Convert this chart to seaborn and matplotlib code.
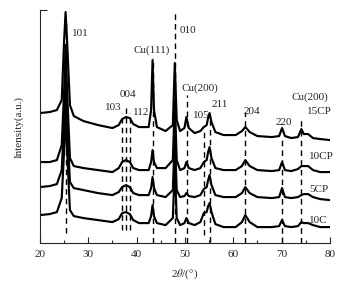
import matplotlib as mpl
mpl.use('agg')
import matplotlib.pyplot as plt
import pandas as pd
import seaborn as sns

# data: 2theta grid (deg) and intensities (a.u., offset patterns)
two_theta = [20, 22, 23.5, 24.5, 25.0, 25.3, 25.6, 26.2, 27, 29, 32, 35, 36.3, 37.0, 37.8,
             38.6, 39.3, 40.5, 42.5, 43.0, 43.3, 43.6, 44.2, 46, 47.5, 47.9, 48.3, 49, 49.9,
             50.3, 50.8, 52, 53.2, 53.9, 54.5, 54.8, 55.1, 55.5, 56.3, 58, 60.5, 61.8, 62.5,
             63.4, 65, 68, 69.5, 70.1, 70.7, 72, 73.4, 74.1, 74.6, 75.5, 76.5, 78, 80]

int_15cp = [130, 131, 133, 143, 203, 231, 203, 138, 127, 122, 118, 115, 118, 124, 126,
            125, 119, 116, 116, 133, 183, 133, 116, 112, 118, 180, 123, 112, 115,
            126, 115, 110, 112, 116, 118, 125, 130, 121, 111, 108, 108, 112, 116,
            111, 107, 106, 107, 115, 107, 105, 106, 114, 109, 109, 105, 104, 103]

int_10cp = [81, 81, 83, 98, 153, 198, 153, 85, 77, 75, 73, 71, 75, 81, 83,
            81, 75, 73, 73, 81, 93, 81, 75, 75, 83, 143, 83, 73, 75,
            81, 75, 73, 75, 81, 83, 91, 96, 85, 75, 73, 73, 77, 83,
            77, 73, 72, 73, 81, 73, 72, 74, 77, 77, 77, 73, 71, 71]

int_5cp = [56, 57, 59, 73, 123, 163, 123, 61, 55, 53, 50, 48, 51, 56, 58,
           56, 50, 48, 48, 55, 66, 55, 48, 46, 53, 108, 53, 46, 47,
           50, 47, 46, 48, 54, 56, 63, 68, 58, 48, 46, 46, 50, 56,
           50, 46, 45, 46, 55, 46, 45, 46, 48, 49, 49, 46, 44, 43]

int_10c = [28, 29, 31, 45, 93, 133, 93, 33, 27, 25, 23, 21, 24, 30, 31,
           29, 23, 20, 20, 27, 38, 27, 20, 18, 25, 78, 25, 18, 20,
           25, 20, 18, 21, 30, 31, 37, 40, 31, 19, 16, 16, 21, 28,
           21, 16, 16, 17, 23, 17, 16, 17, 21, 20, 20, 18, 16, 16]

samples = ['15CP', '10CP', '5CP', '10C']
sample_label_x = [77.9, 78.3, 77.7, 77.7]
sample_label_y = [132, 87, 54, 23]

# reflections: position, label, dashed-line extent, label position
peak_pos = [25.3, 36.9, 37.8, 38.6, 43.3, 47.9, 50.4, 53.9, 55.1, 62.5, 70.1, 74.1]
peak_names = ['101', '103', '004', '112', 'Cu(111)', '010', 'Cu(200)', '105', '211', '204', '220', 'Cu(200)']
line_top = [223, 130, 135, 130, 185, 230, 148, 113, 125, 131, 105, 123]
line_bottom = [10, 13, 13, 13, 0, 0, 0, 8, 1, 0, 0, 0]
label_x = [28.4, 35.1, 38.2, 40.9, 43.2, 50.6, 53.1, 53.3, 57.2, 63.9, 70.5, 75.9]
label_y = [210, 136, 149, 131, 193, 213, 155, 128, 139, 132, 121, 146]

rows = []
for name, vals in zip(samples, [int_15cp, int_10cp, int_5cp, int_10c]):
    for t, v in zip(two_theta, vals):
        rows.append({'2theta': t, 'I': v, 'sample': name})
df = pd.DataFrame(rows)

sns.set_style('ticks')
plt.rcParams['font.family'] = ['Liberation Serif', 'DejaVu Serif']
plt.rcParams['mathtext.fontset'] = 'stix'
plt.rcParams['font.size'] = 8

fig = plt.figure(figsize=(3.57, 2.86), dpi=100)
ax = fig.add_axes([0.112, 0.150, 0.812, 0.815])

# dashed reference lines
ax.vlines(peak_pos, line_bottom, line_top, colors='black', linestyles=(0, (4, 3)),
          linewidth=1.0, zorder=1)

sns.lineplot(data=df, x='2theta', y='I', hue='sample', palette=['black'] * 4,
             linewidth=1.55, legend=False, ax=ax, zorder=2, sort=False)

for nm, lx, ly in zip(peak_names, label_x, label_y):
    ax.text(lx, ly, nm, ha='center', va='center', fontsize=8)
for nm, lx, ly in zip(samples, sample_label_x, sample_label_y):
    ax.text(lx, ly, nm, ha='center', va='center', fontsize=8)

ax.set_xlim(20, 80)
ax.set_ylim(0, 233)
ax.set_xticks([20, 30, 40, 50, 60, 70, 80])
ax.set_xticks([25, 35, 45, 55, 65, 75], minor=True)
ax.set_yticks([233])
ax.set_yticklabels([''])
ax.tick_params(axis='x', which='major', direction='in', length=4, width=0.8, labelsize=8, pad=5)
ax.tick_params(axis='x', which='minor', direction='in', length=2.5, width=0.8)
ax.tick_params(axis='y', direction='in', length=5, width=0.8)
for s in ['top', 'right']:
    ax.spines[s].set_visible(False)
for s in ['left', 'bottom']:
    ax.spines[s].set_linewidth(0.8)

ax.set_xlabel('2$\\it{\\theta}$/(°)', fontsize=8, labelpad=6)
ax.set_ylabel('Intensity(a.u.)', fontsize=8, labelpad=8)

plt.savefig('out.png', dpi=100)
